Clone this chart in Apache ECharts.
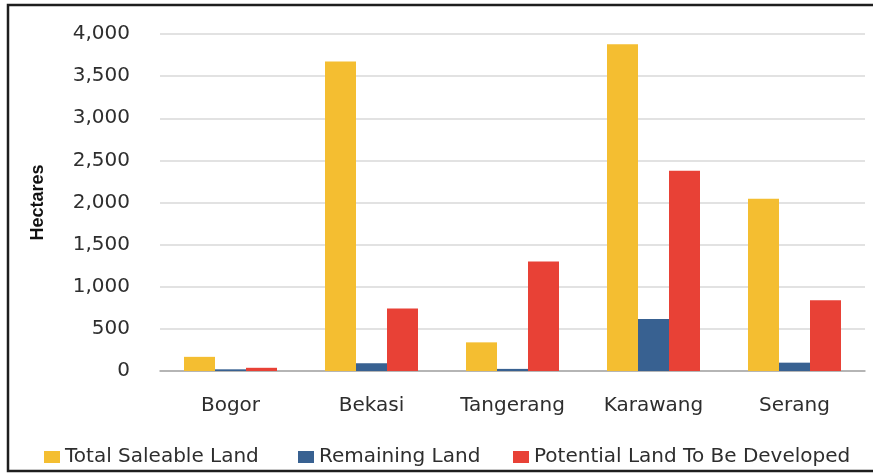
<!DOCTYPE html>
<html>
<head>
<meta charset="utf-8">
<script src="https://cdn.jsdelivr.net/npm/echarts@6/dist/echarts.min.js"></script>
<style>
  html, body { margin: 0; padding: 0; background: #fff; }
  #chart { width: 873px; height: 473px; }
</style>
</head>
<body>
<div id="chart"></div>
<script>
// Industrial estate land by regency (hectares)
const regions = ['Bogor', 'Bekasi', 'Tangerang', 'Karawang', 'Serang'];
const totalSaleable = [168, 3675, 340, 3878, 2044];
const remainingLand = [20, 92, 25, 617, 99];
const potentialLand = [38, 742, 1300, 2376, 840];
const yTicks = { min: 0, max: 4000, interval: 500 };

const seriesNames = ['Total Saleable Land', 'Remaining Land', 'Potential Land To Be Developed'];
const seriesColors = ['#F4BE31', '#386191', '#E84136'];
const seriesData = [totalSaleable, remainingLand, potentialLand];

const labelFont = '"DejaVu Sans", "Noto Sans", sans-serif';
const chart = echarts.init(document.getElementById('chart'), null, { renderer: 'canvas' });

const legendLefts = [39, 293, 508];

chart.setOption({
  animation: false,
  backgroundColor: '#ffffff',
  grid: { left: 160, right: 8, top: 34, bottom: 102, containLabel: false },
  graphic: [{
    type: 'rect',
    shape: { x: 8, y: 5, width: 960, height: 466 },
    style: { fill: 'none', stroke: '#1e1e1e', lineWidth: 2.5 },
    silent: true
  }],
  legend: seriesNames.map((n, i) => ({
    data: [n],
    left: legendLefts[i],
    top: 442,
    itemWidth: 16,
    itemHeight: 12,
    itemGap: 8,
    icon: 'rect',
    textStyle: { fontFamily: labelFont, fontSize: 20, color: '#2e2e2e', padding: [0, 0, 0, 0] }
  })),
  xAxis: {
    type: 'category',
    data: regions,
    axisLine: { lineStyle: { color: '#a6a6a6', width: 1.5 } },
    axisTick: { show: false },
    axisLabel: { fontFamily: labelFont, fontSize: 20, color: '#2e2e2e', margin: 25 }
  },
  yAxis: {
    type: 'value',
    min: yTicks.min,
    max: yTicks.max,
    interval: yTicks.interval,
    name: 'Hectares',
    nameLocation: 'middle',
    nameRotate: 90,
    nameGap: 113,
    nameTextStyle: {
      fontFamily: '"Liberation Sans Narrow", "Liberation Sans", Arial, sans-serif',
      fontWeight: 'bold', fontSize: 18, color: '#111'
    },
    axisLine: { show: false },
    axisTick: { show: false },
    splitLine: { lineStyle: { color: '#d9d9d9', width: 1.5 } },
    axisLabel: {
      fontFamily: labelFont, fontSize: 20, color: '#2e2e2e', margin: 30,
      formatter: v => v.toLocaleString('en-US')
    }
  },
  series: seriesNames.map((n, i) => ({
    name: n,
    type: 'bar',
    data: seriesData[i],
    barWidth: 31,
    barGap: '0%',
    itemStyle: { color: seriesColors[i] }
  }))
});
</script>
</body>
</html>
